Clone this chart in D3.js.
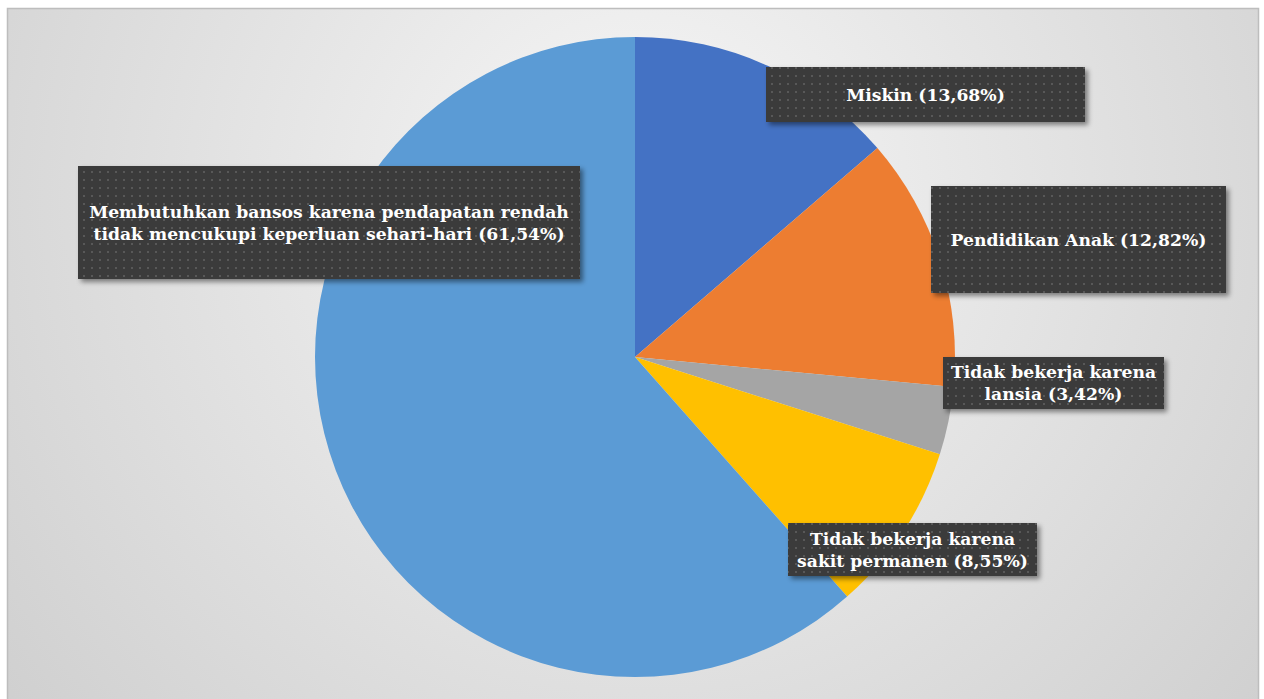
<!DOCTYPE html>
<html>
<head>
<meta charset="utf-8">
<script src="https://cdn.jsdelivr.net/npm/d3@7"></script>
<style>
  html, body { margin: 0; padding: 0; background: #ffffff; }
  svg { display: block; }
</style>
</head>
<body>
<svg id="chart" width="1264" height="699"></svg>
<script>
// Slices, clockwise from 12 o'clock
const categories = [
  "Miskin",
  "Pendidikan Anak",
  "Tidak bekerja karena lansia",
  "Tidak bekerja karena sakit permanen",
  "Membutuhkan bansos karena pendapatan rendah tidak mencukupi keperluan sehari-hari"
];
const values = [13.68, 12.82, 3.42, 8.55, 61.54];
const colors = ["#4472C4", "#ED7D31", "#A5A5A5", "#FFC000", "#5B9BD5"];
// Label text lines (the percentage is appended from values)
const labelLines = [
  ["Miskin"],
  ["Pendidikan Anak"],
  ["Tidak bekerja karena", "lansia"],
  ["Tidak bekerja karena", "sakit permanen"],
  ["Membutuhkan bansos karena pendapatan rendah", "tidak mencukupi keperluan sehari-hari"]
];
// Callout boxes: [x, y, width, height]
const labelBoxes = [
  [766, 67, 319, 55],
  [931, 186, 295, 107],
  [943, 357, 221, 52],
  [788, 523, 249, 53],
  [78, 166, 502, 113]
];

const W = 1264, H = 699;
const svg = d3.select("#chart");
const defs = svg.append("defs");

// Light radial backdrop
const bg = defs.append("radialGradient").attr("id", "bg")
  .attr("gradientUnits", "userSpaceOnUse")
  .attr("cx", 640).attr("cy", 200).attr("r", 820);
bg.append("stop").attr("offset", "0%").attr("stop-color", "#f7f7f7");
bg.append("stop").attr("offset", "100%").attr("stop-color", "#cfcfcf");

// Dotted fill for callouts
const pat = defs.append("pattern").attr("id", "dots")
  .attr("patternUnits", "userSpaceOnUse")
  .attr("width", 8).attr("height", 8);
pat.append("rect").attr("width", 8).attr("height", 8).attr("fill", "#3b3b3b");
pat.append("rect").attr("x", 3).attr("y", 3).attr("width", 2).attr("height", 2).attr("fill", "#595959");

const shadow = defs.append("filter").attr("id", "shadow")
  .attr("x", "-10%").attr("y", "-20%").attr("width", "130%").attr("height", "160%");
shadow.append("feDropShadow").attr("dx", 3).attr("dy", 3).attr("stdDeviation", 2.5)
  .attr("flood-color", "#000").attr("flood-opacity", 0.45);

svg.append("rect")
  .attr("x", 7.5).attr("y", 8.5).attr("width", 1251).attr("height", 700)
  .attr("fill", "url(#bg)").attr("stroke", "#bdbdbd").attr("stroke-width", 1.5);

// Pie
const cx = 635, cy = 357, R = 320;
const pie = d3.pie().sort(null).value(d => d)(values);
const arc = d3.arc().innerRadius(0).outerRadius(R);

const g = svg.append("g").attr("transform", `translate(${cx},${cy})`);
g.selectAll("path").data(pie).join("path")
  .attr("d", arc)
  .attr("fill", (d, i) => colors[i]);

// Callouts
const fmt = v => d3.format(".2f")(v).replace(".", ",") + "%";
const labels = svg.append("g")
  .attr("font-family", "'DejaVu Serif', serif")
  .attr("font-weight", "bold")
  .attr("font-size", 17.2)
  .attr("fill", "#ffffff");

labelBoxes.forEach((b, i) => {
  const [x, y, w, h] = b;
  labels.append("rect")
    .attr("x", x).attr("y", y).attr("width", w).attr("height", h)
    .attr("fill", "url(#dots)").attr("filter", "url(#shadow)");
  const lines = labelLines[i].slice();
  lines[lines.length - 1] += " (" + fmt(values[i]) + ")";
  const lh = 22;
  const y0 = y + h / 2 - (lines.length - 1) * lh / 2;
  const t = labels.append("text")
    .attr("text-anchor", "middle")
    .attr("x", x + w / 2);
  lines.forEach((ln, j) => {
    t.append("tspan")
      .attr("x", x + w / 2)
      .attr("y", y0 + j * lh)
      .attr("dy", "0.35em")
      .text(ln);
  });
});
</script>
</body>
</html>
